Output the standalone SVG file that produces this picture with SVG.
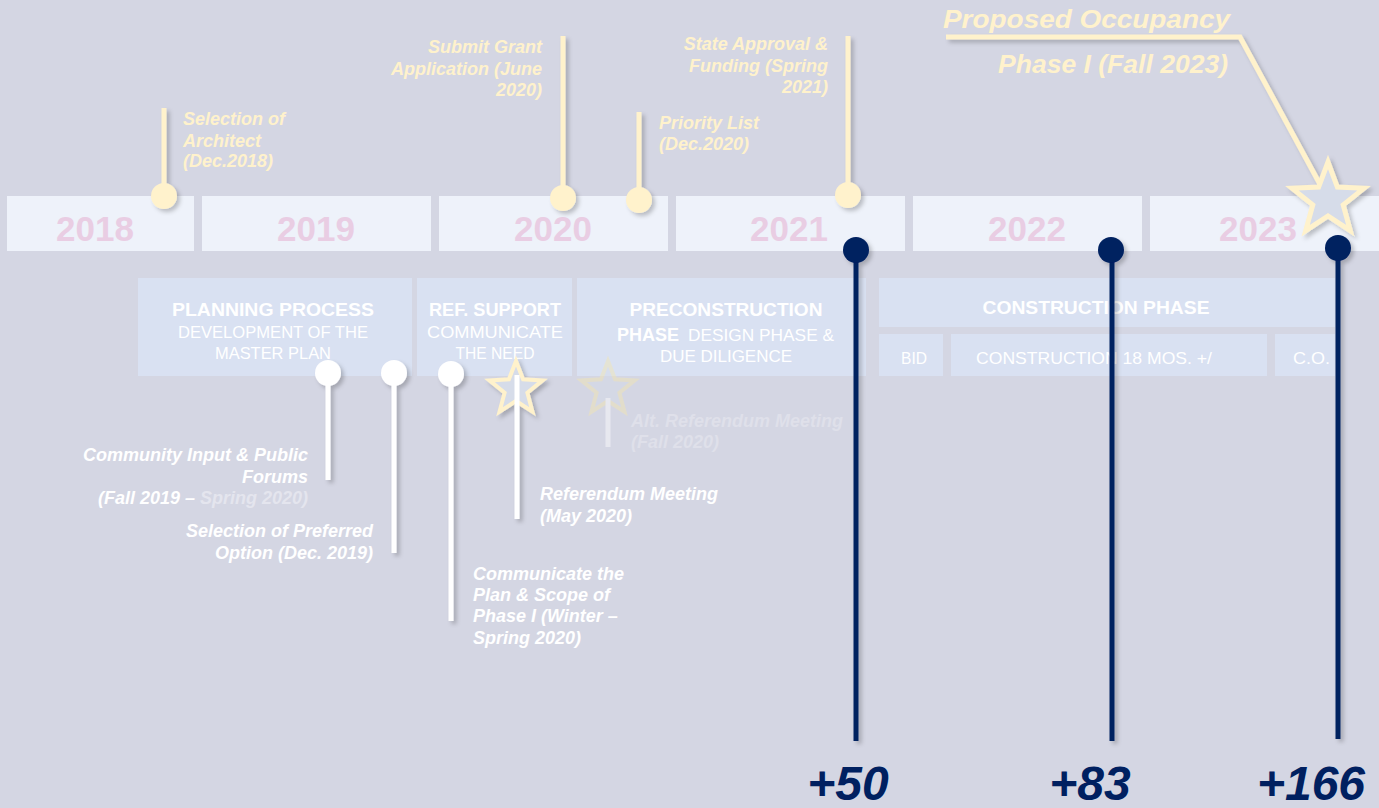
<svg xmlns="http://www.w3.org/2000/svg" width="1379" height="808" viewBox="0 0 1379 808">
<defs>
<filter id="sh" x="-50%" y="-10%" width="200%" height="120%">
<feDropShadow dx="3" dy="3" stdDeviation="2" flood-color="#000" flood-opacity="0.22"/>
</filter>
<style>
.yr{fill:#eef2fa}
.yt{font-family:"Liberation Sans",Arial,sans-serif;font-weight:bold;font-size:35px;fill:#e9cde3;text-anchor:middle}
.ph{fill:#d9e1f2}
.pb{font-family:"Liberation Sans",Arial,sans-serif;font-weight:bold;font-size:19px;fill:#ffffff;text-anchor:middle}
.pr{font-family:"Liberation Sans",Arial,sans-serif;font-size:17px;fill:#ffffff;text-anchor:middle}
.lab{font-family:"Liberation Sans",Arial,sans-serif;font-weight:bold;font-style:italic;font-size:18px}
.ylab{fill:#fff2cc}
.wlab{fill:#ffffff}
.ypin{stroke:#fff2cc;stroke-width:5;fill:none}
.ydot{fill:#fff2cc}
.wpin{stroke:#ffffff;stroke-width:5;fill:none}
.wdot{fill:#ffffff}
.npin{stroke:#002060;stroke-width:5;fill:none}
.ndot{fill:#002060}
.num{font-family:"Liberation Sans",Arial,sans-serif;font-weight:bold;font-style:italic;font-size:48px;fill:#002060;text-anchor:middle}
</style>
</defs>
<rect x="0" y="0" width="1379" height="808" fill="#d4d6e3"/>

<g id="years">
<rect class="yr" x="7" y="196" width="187" height="55"/>
<rect class="yr" x="202" y="196" width="229" height="55"/>
<rect class="yr" x="439" y="196" width="229" height="55"/>
<rect class="yr" x="676" y="196" width="229" height="55"/>
<rect class="yr" x="913" y="196" width="229" height="55"/>
<rect class="yr" x="1150" y="196" width="229" height="55"/>
<text class="yt" x="95" y="241">2018</text>
<text class="yt" x="316" y="241">2019</text>
<text class="yt" x="553" y="241">2020</text>
<text class="yt" x="789" y="241">2021</text>
<text class="yt" x="1027" y="241">2022</text>
<text class="yt" x="1258" y="241">2023</text>
</g>

<g id="phase-planning">
<rect class="ph" x="138" y="278" width="274" height="98"/>
<text class="pb" x="273" y="316" textLength="202" lengthAdjust="spacingAndGlyphs">PLANNING PROCESS</text>
<text class="pr" x="273" y="338" textLength="190" lengthAdjust="spacingAndGlyphs">DEVELOPMENT OF THE</text>
<text class="pr" x="273" y="359" textLength="116" lengthAdjust="spacingAndGlyphs">MASTER PLAN</text>
</g>
<g id="phase-ref">
<rect class="ph" x="417" y="278" width="155" height="98"/>
<text class="pb" x="495" y="316" textLength="132" lengthAdjust="spacingAndGlyphs">REF. SUPPORT</text>
<text class="pr" x="495" y="338" textLength="136" lengthAdjust="spacingAndGlyphs">COMMUNICATE</text>
<text class="pr" x="495" y="359" textLength="79" lengthAdjust="spacingAndGlyphs">THE NEED</text>
</g>
<g id="phase-precon">
<rect class="ph" x="577" y="278" width="289" height="98"/>
<text class="pb" x="726" y="316" textLength="193" lengthAdjust="spacingAndGlyphs">PRECONSTRUCTION</text>
<text class="pb" x="617" y="341" style="text-anchor:start" textLength="62" lengthAdjust="spacingAndGlyphs">PHASE</text>
<text class="pr" x="688" y="341" style="text-anchor:start" textLength="146" lengthAdjust="spacingAndGlyphs">DESIGN PHASE &amp;</text>
<text class="pr" x="726" y="362" textLength="132" lengthAdjust="spacingAndGlyphs">DUE DILIGENCE</text>
</g>
<g id="phase-construction">
<rect class="ph" x="879" y="278" width="456" height="49"/>
<text class="pb" x="1096" y="314" textLength="227" lengthAdjust="spacingAndGlyphs">CONSTRUCTION PHASE</text>
<rect class="ph" x="879" y="334" width="64" height="42"/>
<text class="pr" x="914" y="364" textLength="26" lengthAdjust="spacingAndGlyphs">BID</text>
<rect class="ph" x="951" y="334" width="316" height="42"/>
<text class="pr" x="976" y="364" style="text-anchor:start" textLength="236" lengthAdjust="spacingAndGlyphs">CONSTRUCTION 18 MOS. +/</text>
<rect class="ph" x="1275" y="334" width="60" height="42"/>
<text class="pr" x="1293" y="364" style="text-anchor:start" textLength="37" lengthAdjust="spacingAndGlyphs">C.O.</text>
</g>

<g id="connectors">
<g id="pin-architect" filter="url(#sh)">
<line class="ypin" x1="164" y1="108" x2="164" y2="196"/>
<circle class="ydot" cx="164" cy="196" r="13"/>
</g>
<g id="pin-grant" filter="url(#sh)">
<line class="ypin" x1="563" y1="36" x2="563" y2="198"/>
<circle class="ydot" cx="563" cy="198" r="13"/>
</g>
<g id="pin-priority" filter="url(#sh)">
<line class="ypin" x1="639" y1="112" x2="639" y2="200"/>
<circle class="ydot" cx="639" cy="200" r="13"/>
</g>
<g id="pin-state" filter="url(#sh)">
<line class="ypin" x1="848" y1="36" x2="848" y2="195"/>
<circle class="ydot" cx="848" cy="195" r="13"/>
</g>
<g id="pin-occupancy" filter="url(#sh)">
<polyline class="ypin" points="946,37 1240,37 1322,188"/>
<polygon points="1328,162 1337.4,187.1 1364.1,188.3 1343.2,204.9 1350.3,230.7 1328,216 1305.7,230.7 1312.8,204.9 1291.9,188.3 1318.6,187.1" fill="#d6dce9" stroke="#fff2cc" stroke-width="5" stroke-linejoin="miter"/>
</g>
<g id="pin-community" filter="url(#sh)">
<line class="wpin" x1="328" y1="373" x2="328" y2="480"/>
<circle class="wdot" cx="328" cy="373" r="13"/>
</g>
<g id="pin-preferred" filter="url(#sh)">
<line class="wpin" x1="394" y1="373" x2="394" y2="553"/>
<circle class="wdot" cx="394" cy="373" r="13"/>
</g>
<g id="pin-communicate" filter="url(#sh)">
<line class="wpin" x1="451" y1="374" x2="451" y2="621"/>
<circle class="wdot" cx="451" cy="374" r="13"/>
</g>
<g id="pin-referendum" filter="url(#sh)">
<polygon points="516,361 523.1,379.3 542.6,380.4 527.4,392.7 532.5,411.7 516,401 499.5,411.7 504.6,392.7 489.4,380.4 508.9,379.3" fill="#d6dce9" stroke="#fff2cc" stroke-width="4"/>
<line class="wpin" x1="517" y1="375" x2="517" y2="519"/>
</g>
<g id="pin-alt" opacity="0.45">
<polygon points="608,361 615.1,379.3 634.6,380.4 619.4,392.7 624.5,411.7 608,401 591.5,411.7 596.6,392.7 581.4,380.4 600.9,379.3" fill="#d6dce9" stroke="#f3e6b0" stroke-width="4"/>
<line class="wpin" x1="608" y1="398" x2="608" y2="447"/>
</g>
<g id="pin-50" filter="url(#sh)">
<line class="npin" x1="856" y1="250" x2="856" y2="741"/>
<circle class="ndot" cx="856" cy="250" r="13"/>
</g>
<g id="pin-83" filter="url(#sh)">
<line class="npin" x1="1112" y1="250" x2="1112" y2="741"/>
<circle class="ndot" cx="1111" cy="250" r="13"/>
</g>
<g id="pin-166" filter="url(#sh)">
<line class="npin" x1="1338" y1="248" x2="1338" y2="739"/>
<circle class="ndot" cx="1338" cy="248" r="13"/>
</g>
</g>

<g id="label-architect" class="lab ylab">
<text x="183" y="125">Selection of</text>
<text x="183" y="147">Architect</text>
<text x="183" y="167">(Dec.2018)</text>
</g>
<g id="label-grant" class="lab ylab" text-anchor="end">
<text x="542" y="53">Submit Grant</text>
<text x="542" y="75">Application (June</text>
<text x="542" y="96">2020)</text>
</g>
<g id="label-priority" class="lab ylab">
<text x="659" y="129">Priority List</text>
<text x="659" y="150">(Dec.2020)</text>
</g>
<g id="label-state" class="lab ylab" text-anchor="end">
<text x="828" y="50">State Approval &amp;</text>
<text x="828" y="72">Funding (Spring</text>
<text x="828" y="93">2021)</text>
</g>
<g id="label-occupancy" class="lab ylab" style="font-size:25px">
<text x="943" y="28" textLength="287" lengthAdjust="spacingAndGlyphs">Proposed Occupancy</text>
<text x="1228" y="73" text-anchor="end" textLength="230" lengthAdjust="spacingAndGlyphs">Phase I (Fall 2023)</text>
</g>
<g id="label-community" class="lab wlab" text-anchor="end">
<text x="308" y="461">Community Input &amp; Public</text>
<text x="308" y="483">Forums</text>
<text x="308" y="504">(Fall 2019 – <tspan fill="#e4e5ee">Spring 2020)</tspan></text>
</g>
<g id="label-preferred" class="lab wlab" text-anchor="end">
<text x="373" y="537">Selection of Preferred</text>
<text x="373" y="559">Option (Dec. 2019)</text>
</g>
<g id="label-communicate" class="lab wlab">
<text x="473" y="580">Communicate the</text>
<text x="473" y="601">Plan &amp; Scope of</text>
<text x="473" y="622">Phase I (Winter –</text>
<text x="473" y="644">Spring 2020)</text>
</g>
<g id="label-referendum" class="lab wlab">
<text x="540" y="500">Referendum Meeting</text>
<text x="540" y="522">(May 2020)</text>
</g>
<g id="label-alt" class="lab" fill="#dfe0ea">
<text x="631" y="427">Alt. Referendum Meeting</text>
<text x="631" y="448">(Fall 2020)</text>
</g>
<g id="label-numbers">
<text class="num" x="848" y="800">+50</text>
<text class="num" x="1090" y="800">+83</text>
<text class="num" x="1311" y="800">+166</text>
</g>
</svg>
